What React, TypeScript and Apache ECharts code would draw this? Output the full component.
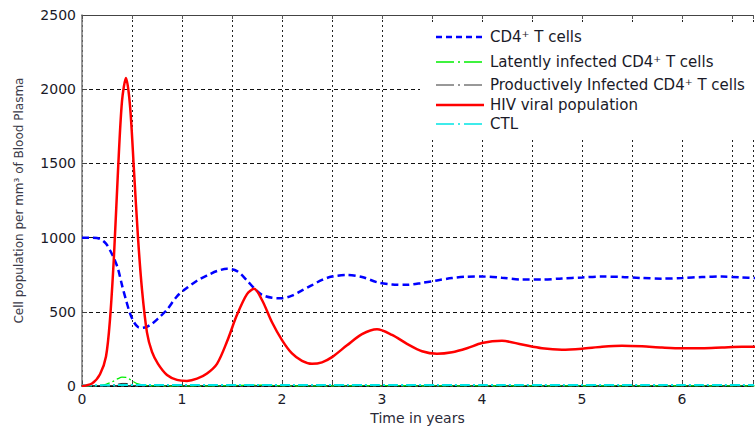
import React, { useEffect, useRef } from "react";
import * as echarts from "echarts";

// Time in years
const times = [
  0, 0.1, 0.18, 0.24, 0.28, 0.32, 0.36, 0.4, 0.44, 0.48, 0.52, 0.56, 0.6, 0.65, 0.7, 0.76, 0.85, 0.95,
  1.05, 1.15, 1.25, 1.35, 1.45, 1.55, 1.65, 1.72, 1.8, 1.9, 2.0, 2.1, 2.2, 2.3, 2.4, 2.5, 2.65, 2.8,
  2.95, 3.1, 3.25, 3.4, 3.55, 3.7, 3.85, 4.0, 4.2, 4.4, 4.6, 4.8, 5.0, 5.2, 5.4, 5.6, 5.8, 6.0, 6.2,
  6.4, 6.6, 6.75,
];

const cd4Cells = [
  1000, 1000, 992, 960, 915, 860, 790, 680, 580, 490, 430, 398, 392, 400, 420, 455, 515, 605,
  662, 710, 745, 775, 790, 775, 712, 660, 615, 595, 592, 610, 645, 680, 715, 738, 748, 735,
  700, 685, 682, 695, 712, 728, 737, 738, 730, 718, 718, 725, 732, 738, 735, 728, 724, 728, 735,
  738, 732, 728,
];

const latentCells = [
  0, 1, 5, 12, 22, 35, 50, 60, 58, 45, 28, 15, 8, 4, 2, 1, 0, 0,
  0, 0, 0, 1, 2, 4, 6, 7, 6, 4, 2, 1, 0, 0, 0, 1, 2, 3,
  4, 3, 2, 1, 1, 1, 1, 1, 1, 1, 1, 1, 1, 1, 1, 1, 1, 1, 1,
  1, 1, 1,
];

const productiveCells = [
  0, 0, 1, 2, 4, 8, 13, 18, 18, 13, 7, 3, 1, 0, 0, 0, 0, 0,
  0, 0, 0, 0, 1, 1, 2, 2, 2, 1, 1, 0, 0, 0, 0, 0, 0, 1,
  1, 1, 0, 0, 0, 0, 0, 0, 0, 0, 0, 0, 0, 0, 0, 0, 0, 0, 0,
  0, 0, 0,
];

const hivViral = [
  0, 18, 80, 200, 450, 880, 1450, 1920, 2075, 1890, 1450, 1000, 650, 360, 230, 150, 75, 42,
  35, 50, 85, 150, 300, 480, 620, 655, 580, 430, 310, 220, 170, 150, 160, 195, 275, 350,
  383, 345, 285, 235, 218, 228, 255, 290, 305, 280, 255, 245, 252, 265, 272, 268, 260, 255, 255,
  260, 265, 265,
];

const ctlCells = [
  5, 5, 5, 5, 6, 6, 7, 7, 7, 7, 7, 7, 7, 7, 7, 7, 7, 7,
  7, 7, 7, 7, 7, 7, 7, 7, 7, 7, 7, 7, 7, 7, 7, 7, 7, 7,
  7, 7, 7, 7, 7, 7, 7, 7, 7, 7, 7, 7, 7, 7, 7, 7, 7, 7, 7,
  7, 7, 7,
];

const seriesNames = [
  "CD4\u207A T cells",
  "Latently infected CD4\u207A T cells",
  "Productively Infected CD4\u207A T cells",
  "HIV viral population",
  "CTL",
];
const seriesValues = [cd4Cells, latentCells, productiveCells, hivViral, ctlCells];
const seriesColors = ["#0000ff", "#00ee00", "#333333", "#ff0000", "#00e5e5"];
const seriesWidths = [2.5, 1.3, 1, 2.5, 2];
const seriesDash: (number[] | null)[] = [[7, 4], [10, 3, 2, 3], [10, 3, 2, 3], null, [10, 3, 2, 3]];
const legendDash: (number[] | null)[] = [[6, 4], [18, 4, 2, 4], [18, 4, 2, 4], null, [18, 4, 2, 4]];
const legendWidths = [2.5, 1.5, 1, 2.5, 1.5];
const legendRowsY = [37, 62, 85, 105, 124];

const yTicks = [0, 500, 1000, 1500, 2000, 2500];

const FONT = '"DejaVu Sans", "Liberation Sans", Arial, sans-serif';

export default function App() {
  const ref = useRef<HTMLDivElement>(null);

  useEffect(() => {
    const chart = echarts.init(ref.current!, null, { renderer: "svg" });

    const series = seriesNames.map((name, i) => ({
      name,
      type: "line",
      xAxisIndex: 0,
      yAxisIndex: 0,
      data: times.map((t, k) => [t, seriesValues[i][k]]),
      showSymbol: false,
      smooth: 0.3,
      lineStyle: {
        color: seriesColors[i],
        width: seriesWidths[i],
        type: seriesDash[i] ? seriesDash[i] : "solid",
      },
      z: i === 3 ? 4 : 3,
    }));

    const legendGraphics: any[] = [
      {
        type: "rect",
        shape: { x: 420, y: 22, width: 340, height: 115 },
        style: { fill: "#ffffff" },
        z: 100,
      },
    ];
    seriesNames.forEach((name, i) => {
      legendGraphics.push({
        type: "line",
        shape: { x1: 436, y1: legendRowsY[i], x2: 484, y2: legendRowsY[i] },
        style: {
          stroke: seriesColors[i],
          lineWidth: legendWidths[i],
          lineDash: legendDash[i] || undefined,
        },
        z: 101,
      });
      legendGraphics.push({
        type: "text",
        x: 490,
        y: legendRowsY[i],
        style: {
          text: name,
          fontFamily: FONT,
          fontSize: 15,
          fill: "#1a1a28",
          align: "left",
          verticalAlign: "middle",
        },
        z: 101,
      });
    });

    chart.setOption({
      animation: false,
      backgroundColor: "#ffffff",
      grid: { left: 82, top: 15, right: -2, bottom: 38, containLabel: false },
      xAxis: [
        {
          type: "value",
          position: "bottom",
          min: 0,
          max: 6.71,
          interval: 0.5,
          name: "Time in years",
          nameLocation: "middle",
          nameGap: 21,
          nameTextStyle: { fontFamily: FONT, fontSize: 14, color: "#2a2a38" },
          axisLine: { show: true, onZero: false, lineStyle: { color: "#000", width: 1.5 } },
          axisTick: { show: true, inside: true, length: 5, lineStyle: { color: "#444" } },
          axisLabel: {
            margin: 6,
            fontFamily: FONT,
            fontSize: 14,
            color: "#1a1a28",
            formatter: (v: number) => (Math.abs(v - Math.round(v)) < 1e-6 ? String(Math.round(v)) : ""),
          },
          splitLine: { show: true, lineStyle: { color: "#222", width: 1, type: [2, 3] } },
        },
        {
          type: "value",
          position: "top",
          min: 0,
          max: 6.71,
          interval: 0.5,
          axisLine: { show: true, onZero: false, lineStyle: { color: "#444", width: 1.2 } },
          axisTick: { show: true, inside: true, length: 4, lineStyle: { color: "#555" } },
          axisLabel: { show: false },
          splitLine: { show: false },
        },
      ],
      yAxis: {
        type: "value",
        min: yTicks[0],
        max: yTicks[yTicks.length - 1],
        interval: 500,
        name: "Cell population per mm\u00B3 of Blood Plasma",
        nameLocation: "middle",
        nameGap: 57,
        nameTextStyle: { fontFamily: FONT, fontSize: 12, color: "#3a3a48" },
        axisLine: { show: true, lineStyle: { color: "#777", width: 1.5 } },
        axisTick: { show: true, inside: true, length: 5, lineStyle: { color: "#444" } },
        axisLabel: {
          margin: 6,
          fontFamily: FONT,
          fontSize: 14,
          color: "#1a1a28",
          formatter: (v: number) => String(v),
        },
        splitLine: { show: true, lineStyle: { color: "#111", width: 1, type: [4, 3] } },
      },
      series,
      graphic: legendGraphics,
    });

    return () => chart.dispose();
  }, []);

  return (
    <div
      ref={ref}
      style={{ position: "absolute", left: 0, top: 0, width: 756, height: 430 }}
    />
  );
}
